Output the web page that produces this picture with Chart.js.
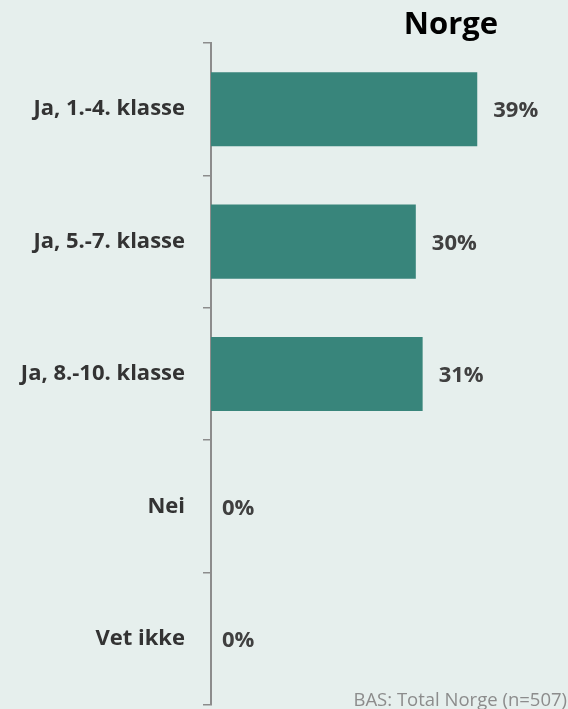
<!DOCTYPE html>
<html>
<head>
<meta charset="utf-8">
<script src="https://cdn.jsdelivr.net/npm/chart.js"></script>
<style>
  html, body { margin: 0; padding: 0; background: #e6efed; }
  #wrap { position: relative; width: 568px; height: 709px; overflow: hidden; }
  canvas { display: block; }
  #title {
    position: absolute; left: 351px; width: 200px; top: 1px; text-align: center;
    font: bold 31px "Open Sans", sans-serif; color: #000;
  }
  #base {
    position: absolute; right: 1px; bottom: -1px; line-height: 22px;
    font-size: 18.5px; font-family: "Open Sans", sans-serif; color: #8c8c8c;
  }
</style>
</head>
<body>
<div id="wrap">
  <canvas id="chart" width="568" height="709"></canvas>
  <div id="title">Norge</div>
  <div id="base">BAS: Total Norge (n=507)</div>
</div>
<script>
// data
const categories = ["Ja, 1.-4. klasse", "Ja, 5.-7. klasse", "Ja, 8.-10. klasse", "Nei", "Vet ikke"];
const shares = [39, 30, 31, 0, 0];

const valueLabels = {
  id: 'valueLabels',
  afterDatasetsDraw(chart) {
    const ctx = chart.ctx;
    const meta = chart.getDatasetMeta(0);
    ctx.save();
    ctx.font = 'bold 22px "Open Sans", sans-serif';
    ctx.fillStyle = '#404040';
    ctx.textBaseline = 'middle';
    ctx.textAlign = 'left';
    meta.data.forEach((bar, i) => {
      const v = shares[i];
      const gap = v > 0 ? 16 : 11;
      ctx.fillText(v + '%', bar.x + gap, bar.y + 2);
    });
    ctx.restore();
  }
};

new Chart(document.getElementById('chart'), {
  type: 'bar',
  data: {
    labels: categories,
    datasets: [{
      data: shares,
      backgroundColor: '#38857b',
      categoryPercentage: 1,
      barPercentage: 0.56
    }]
  },
  options: {
    indexAxis: 'y',
    responsive: false,
    animation: false,
    layout: { padding: { top: 43, bottom: 4, right: 2, left: 0 } },
    plugins: { legend: { display: false }, tooltip: { enabled: false } },
    scales: {
      x: { display: false, min: 0, max: 52 },
      y: {
        afterFit(scale) {
          scale.width = 211;
          scale.paddingTop = 0;
          scale.paddingBottom = 0;
        },
        grid: {
          offset: true,
          drawOnChartArea: false,
          tickLength: 8,
          color: '#8c8c8c',
          lineWidth: 1.5
        },
        border: { color: '#8c8c8c', width: 2 },
        ticks: {
          padding: 18,
          color: '#333333',
          font: { family: 'Open Sans', weight: 'bold', size: 22 }
        }
      }
    }
  },
  plugins: [valueLabels]
});
</script>
</body>
</html>
